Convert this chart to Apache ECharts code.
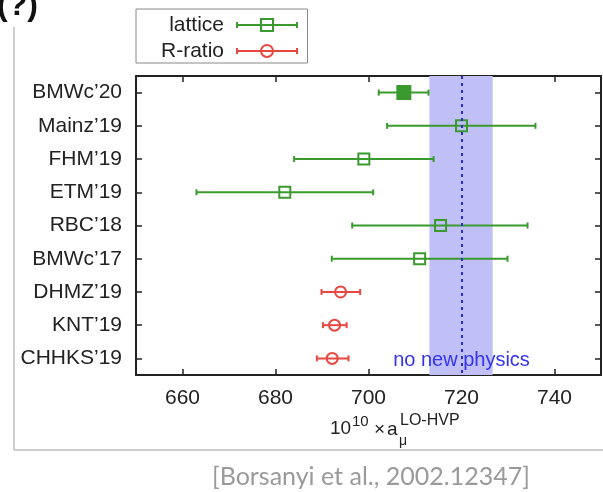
<!DOCTYPE html>
<html>
<head>
<meta charset="utf-8">
<script src="https://cdn.jsdelivr.net/npm/echarts@6/dist/echarts.min.js"></script>
<style>
  html, body { margin: 0; padding: 0; background: #fff; }
  #chart { width: 603px; height: 492px; }
</style>
</head>
<body>
<div id="chart"></div>
<script>
const categories = ['BMWc’20', 'Mainz’19', 'FHM’19', 'ETM’19', 'RBC’18', 'BMWc’17', 'DHMZ’19', 'KNT’19', 'CHHKS’19'];

// lattice results (rows 0..5)
const latticeRows = [0, 1, 2, 3, 4, 5];
const latticeCenter = [707.6, 720.0, 699.0, 682.0, 715.5, 711.0];
const latticeLow = [702.2, 704.0, 684.0, 663.0, 696.5, 692.1];
const latticeHigh = [712.9, 735.9, 714.0, 701.0, 734.2, 729.9];
const latticeFilled = [1, 0, 0, 0, 0, 0];

// R-ratio results (rows 6..8)
const rratioRows = [6, 7, 8];
const rratioCenter = [694.0, 692.7, 692.2];
const rratioLow = [689.9, 690.2, 688.9];
const rratioHigh = [698.2, 695.3, 695.7];

const xTicks = [660, 680, 700, 720, 740];
const noNewPhysics = 720;
const bandRange = [713.1, 726.7];

const GREEN = '#3b9a2e';
const RED = '#e8473f';
const FONT = 'Liberation Sans, Arial, sans-serif';

function errorBar(kind) {
  return function (params, api) {
    const row = api.value(3);
    const c = api.coord([api.value(0), row]);
    const lo = api.coord([api.value(1), row]);
    const hi = api.coord([api.value(2), row]);
    const color = api.visual('color');
    const y = c[1];
    const st = { stroke: color, lineWidth: 2 };
    const kids = [
      { type: 'line', shape: { x1: lo[0], y1: y, x2: hi[0], y2: y }, style: st },
      { type: 'line', shape: { x1: lo[0], y1: y - 3, x2: lo[0], y2: y + 3 }, style: st },
      { type: 'line', shape: { x1: hi[0], y1: y - 3, x2: hi[0], y2: y + 3 }, style: st }
    ];
    if (kind === 'square') {
      const filled = api.value(4) === 1;
      const s = filled ? 13 : 11;
      kids.push({
        type: 'rect',
        shape: { x: c[0] - s / 2, y: y - s / 2, width: s, height: s },
        style: { fill: filled ? color : 'none', stroke: color, lineWidth: 2 }
      });
    } else {
      kids.push({
        type: 'circle',
        shape: { cx: c[0], cy: y, r: 5.5 },
        style: { fill: 'none', stroke: color, lineWidth: 2 }
      });
    }
    return { type: 'group', children: kids };
  };
}

const latticeData = latticeRows.map((r, i) => [latticeCenter[i], latticeLow[i], latticeHigh[i], r, latticeFilled[i]]);
const rratioData = rratioRows.map((r, i) => [rratioCenter[i], rratioLow[i], rratioHigh[i], r, 0]);

const squareIcon = 'path://M0,7 L60,7 M0,4 L0,10 M60,4 L60,10 M24,1 L36,1 L36,13 L24,13 Z';
const circleIcon = 'path://M0,7 L60,7 M0,4 L0,10 M60,4 L60,10 M24,7 A6,6 0 1,1 36,7 A6,6 0 1,1 24,7 Z';

const frame = { show: true, onZero: false, lineStyle: { color: '#222', width: 2 } };
const tick = { show: true, inside: true, length: 6, lineStyle: { color: '#222', width: 1.5 } };

const chart = echarts.init(document.getElementById('chart'));
chart.setOption({
  animation: false,
  textStyle: { fontFamily: FONT },
  grid: { left: 136, right: 2, top: 76, bottom: 117 },
  legend: {
    orient: 'vertical',
    left: 136,
    top: 9,
    align: 'right',
    padding: [4, 8, 0, 25],
    itemGap: 2,
    itemWidth: 60,
    itemHeight: 14,
    borderColor: '#888',
    borderWidth: 1,
    selectedMode: false,
    textStyle: { fontSize: 21, color: '#222', fontFamily: FONT, padding: [0, 8, 0, 0], lineHeight: 24 },
    data: [
      { name: 'lattice', icon: squareIcon, itemStyle: { color: 'none', borderColor: GREEN, borderWidth: 2 } },
      { name: 'R-ratio', icon: circleIcon, itemStyle: { color: 'none', borderColor: RED, borderWidth: 2 } }
    ]
  },
  xAxis: [
    {
      type: 'value', min: 650, max: 750,
      axisLine: frame,
      axisTick: Object.assign({ customValues: xTicks }, tick),
      axisLabel: { customValues: xTicks, fontSize: 21, color: '#222', margin: 13, fontFamily: FONT },
      splitLine: { show: false }
    },
    {
      type: 'value', min: 650, max: 750, position: 'top',
      axisLine: frame,
      axisTick: Object.assign({ customValues: xTicks }, tick),
      axisLabel: { show: false },
      splitLine: { show: false }
    }
  ],
  yAxis: [
    {
      type: 'category', data: categories, inverse: true,
      axisLine: frame,
      axisTick: Object.assign({ alignWithLabel: true }, tick),
      axisLabel: { fontSize: 21, color: '#222', margin: 14, fontFamily: FONT }
    },
    {
      type: 'category', data: categories, inverse: true, position: 'right',
      axisLine: frame,
      axisTick: Object.assign({ alignWithLabel: true }, tick),
      axisLabel: { show: false }
    }
  ],
  series: [
    {
      name: 'band',
      type: 'line',
      data: [],
      z: 1,
      silent: true,
      markArea: {
        silent: true,
        itemStyle: { color: '#c0c0f6' },
        data: [[{ xAxis: bandRange[0] }, { xAxis: bandRange[1] }]]
      },
      markLine: {
        silent: true,
        symbol: 'none',
        label: { show: false },
        lineStyle: { color: '#2a2ae0', width: 2, type: [3, 4] },
        data: [{ xAxis: noNewPhysics }]
      },
      markPoint: {
        silent: true,
        symbol: 'circle',
        symbolSize: 1,
        itemStyle: { color: 'rgba(0,0,0,0)' },
        label: { show: true, position: 'inside', formatter: 'no new physics', color: '#3434f0', fontSize: 20, fontFamily: FONT, offset: [0, 2] },
        data: [{ coord: [noNewPhysics, categories[8]] }]
      }
    },
    {
      name: 'lattice',
      type: 'custom',
      z: 3,
      itemStyle: { color: GREEN },
      renderItem: errorBar('square'),
      encode: { x: [0, 1, 2], y: 3 },
      data: latticeData
    },
    {
      name: 'R-ratio',
      type: 'custom',
      z: 3,
      itemStyle: { color: RED },
      renderItem: errorBar('circle'),
      encode: { x: [0, 1, 2], y: 3 },
      data: rratioData
    }
  ],
  graphic: [
    { type: 'line', silent: true, shape: { x1: 14, y1: 27, x2: 14, y2: 450 }, style: { stroke: '#bdbdbd', lineWidth: 1.5 } },
    { type: 'line', silent: true, shape: { x1: 14, y1: 450, x2: 603, y2: 450 }, style: { stroke: '#bdbdbd', lineWidth: 1.5 } },
    { type: 'text', silent: true, x: -3, y: 6, style: { text: '(?)', font: 'bold 32px ' + FONT, fill: '#111', verticalAlign: 'middle' } },
    { type: 'text', silent: true, x: 212, y: 477, style: { text: '[Borsanyi et al., 2002.12347]', font: '25px Lato, "Open Sans", sans-serif', fill: '#9a9a9a', verticalAlign: 'middle' } },
    // x axis title: 10^10 x a_mu^(LO-HVP)
    { type: 'text', silent: true, x: 330, y: 429, style: { text: '10', font: '19px ' + FONT, fill: '#222', verticalAlign: 'middle' } },
    { type: 'text', silent: true, x: 352, y: 422, style: { text: '10', font: '15px ' + FONT, fill: '#222', verticalAlign: 'middle' } },
    { type: 'text', silent: true, x: 374, y: 430, style: { text: '×', font: '19px ' + FONT, fill: '#222', verticalAlign: 'middle' } },
    { type: 'text', silent: true, x: 387, y: 430, style: { text: 'a', font: '19px ' + FONT, fill: '#222', verticalAlign: 'middle' } },
    { type: 'text', silent: true, x: 399, y: 441, style: { text: 'μ', font: '14px ' + FONT, fill: '#222', verticalAlign: 'middle' } },
    { type: 'text', silent: true, x: 400, y: 421, style: { text: 'LO-HVP', font: '16px ' + FONT, fill: '#222', verticalAlign: 'middle' } }
  ]
});
</script>
</body>
</html>
